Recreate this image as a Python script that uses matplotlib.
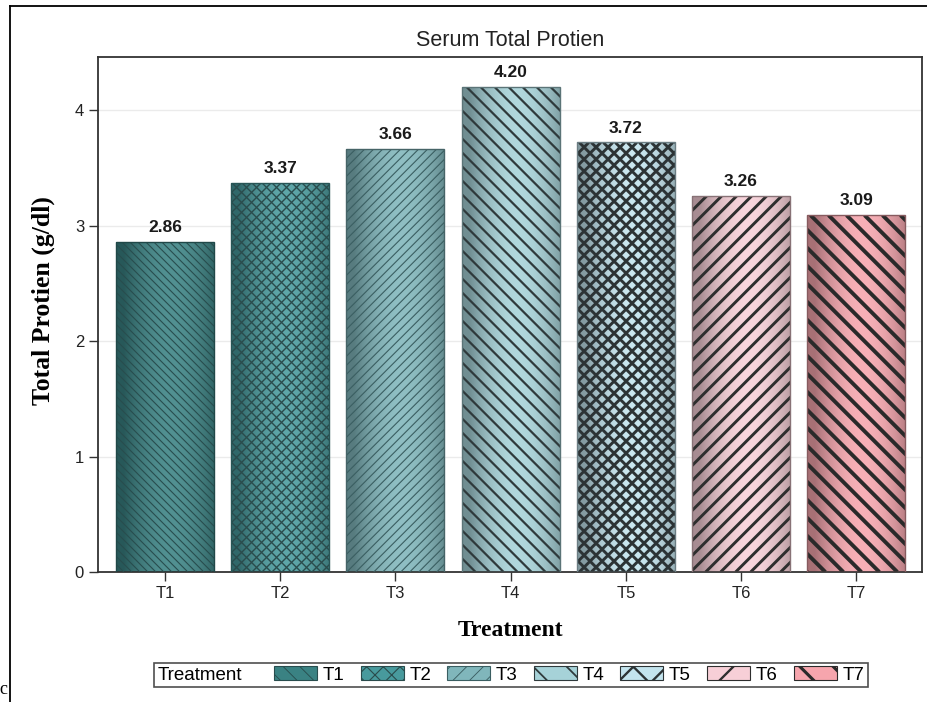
import numpy as np
import matplotlib.pyplot as plt
from matplotlib.patches import Patch
from matplotlib.colors import to_rgb
from matplotlib.lines import Line2D
from matplotlib.collections import LineCollection
from matplotlib.offsetbox import DrawingArea

# data
treatments = ['T1', 'T2', 'T3', 'T4', 'T5', 'T6', 'T7']
protein = [2.86, 3.37, 3.66, 4.20, 3.72, 3.26, 3.09]
yticks = [0, 1, 2, 3, 4]

# styling per treatment
fill_colors = ['#3a8283', '#489a9d', '#80b6bb', '#a6d2d8', '#c3e4ee', '#f7cfd7', '#f6a5ad']
# hatch: direction ('/', '\\' or 'x'), spacing in px, line width in pt
hatch_dir = ['\\', 'x', '/', '\\', 'x', '/', '\\']
hatch_gap = [8, 10, 9, 14, 12, 15, 18]
hatch_lw = [0.8, 1.0, 0.8, 1.6, 2.1, 2.1, 2.8]
hatch_cols = ['#284d4e', '#2a4b4c', '#3a5e61', '#2f3a3c', '#2c3335', '#2e2e2e', '#2a2a2a']
legend_hatch = ['\\\\', 'xx', '//', '\\', 'x', '/', '\\']

sans = 'Liberation Sans'
serif = 'Liberation Serif'

fig = plt.figure(figsize=(9.28, 7.02), dpi=100)
ax_px = (922 - 98, 572 - 57)
ax = fig.add_axes([98/928, 1-572/702, ax_px[0]/928, ax_px[1]/702])

xlim = (-0.58, 6.57)
ylim = (0, 4.46)
px_x = ax_px[0] / (xlim[1] - xlim[0])
px_y = ax_px[1] / (ylim[1] - ylim[0])

x = np.arange(len(treatments))
w = 0.85


def shade(base, n=64):
    b = np.array(to_rgb(base))
    t = np.linspace(0, 1, n)
    s = np.clip(1 - (2*t - 1.15)**2, 0, 1)
    dark = b*0.68
    light = b + (1 - b)*0.12
    g = dark[None, :] + (light - dark)[None, :]*s[:, None]
    return np.clip(g, 0, 1)[None, :, :]


def hatch_lines(x0, x1, h, gap, direction):
    # 45 degree lines in pixel space, expressed in data units
    run = h * px_y / px_x
    step = gap / px_x
    segs = []
    for u in np.arange(x0 - run, x1 + step, step):
        if direction in ('/', 'x'):
            segs.append([(u, 0), (u + run, h)])
        if direction in ('\\', 'x'):
            segs.append([(u, h), (u + run, 0)])
    return segs


for i in range(len(treatments)):
    x0, x1 = x[i] - w/2, x[i] + w/2
    b = ax.bar(x[i], protein[i], width=w, color='none', linewidth=0, zorder=3)[0]
    im = ax.imshow(shade(fill_colors[i]), extent=(x0, x1, 0, protein[i]),
                   aspect='auto', zorder=2, interpolation='bicubic')
    im.set_clip_path(b)
    lc = LineCollection(hatch_lines(x0, x1, protein[i], hatch_gap[i], hatch_dir[i]),
                        colors=hatch_cols[i], linewidths=hatch_lw[i], zorder=3)
    ax.add_collection(lc)
    lc.set_clip_path(b)
    edge = np.array(to_rgb(fill_colors[i]))*0.55
    ax.bar(x[i], protein[i], width=w, fill=False, edgecolor=edge, linewidth=1.0, zorder=4)
    ax.text(x[i], protein[i] + 0.06, '%.2f' % protein[i], ha='center', va='bottom',
            fontsize=12.5, fontweight='bold', family=sans, color='#1a1a1a')

ax.set_xlim(*xlim)
ax.set_ylim(*ylim)
ax.set_xticks(x)
ax.set_xticklabels(treatments, family=sans, fontsize=12)
ax.set_yticks(yticks)
ax.set_yticklabels([str(v) for v in yticks], family=sans, fontsize=12)
ax.tick_params(colors='#333333', labelcolor='#222222', length=6.5, width=1)
ax.yaxis.grid(True, color='#ebebeb', linewidth=1)
ax.set_axisbelow(True)
for sp in ax.spines.values():
    sp.set_color('#333333')
    sp.set_linewidth(1.3)

ax.set_title('Serum Total Protien', family=sans, fontsize=15.5, pad=8, color='#222222')
ax.set_ylabel('Total Protien (g/dl)', family=serif, fontsize=18.5, fontweight='bold')
ax.yaxis.set_label_coords(-0.052, 0.528)
ax.set_xlabel('Treatment', family=serif, fontsize=17, fontweight='bold', labelpad=14)

# legend along the bottom with the title on the left
handles = []
for i in range(len(treatments)):
    handles.append(Patch(facecolor=fill_colors[i], edgecolor=hatch_cols[i],
                         hatch=legend_hatch[i], linewidth=0.8, label=treatments[i]))
leg = fig.legend(handles=handles, title='Treatment', ncol=7, loc='center',
                 bbox_to_anchor=(511/928, 1-675/702), frameon=True, fancybox=False,
                 edgecolor='#222222', prop={'family': sans, 'size': 13.5},
                 title_fontproperties={'family': sans, 'size': 13.5},
                 handlelength=2.3, handleheight=0.75, handletextpad=0.3,
                 borderpad=0.2, borderaxespad=0)
leg.get_frame().set_linewidth(1.2)
for p, lw in zip(leg.get_patches(), hatch_lw):
    try:
        p.set_hatch_linewidth(lw * 0.8)
    except AttributeError:
        pass
c = leg.get_children()[0]
title_box = c.get_children()[0]
hpack = c.get_children()[1]
c._children = [hpack]
spacer = DrawingArea(0, 1)
spacer.set_figure(fig)
hpack._children = [title_box, spacer] + hpack.get_children()
hpack.sep = 11.5

# outer frame of the original graphic
fig.add_artist(Line2D([10/928, 10/928], [0, 1-6/702], color='black', lw=1.3))
fig.add_artist(Line2D([10/928, 1], [1-6/702, 1-6/702], color='black', lw=1.3))
fig.text(-0.001, 0.005, 'c', family=serif, fontsize=13, ha='left', va='bottom')

fig.savefig('out.png', dpi=100)
